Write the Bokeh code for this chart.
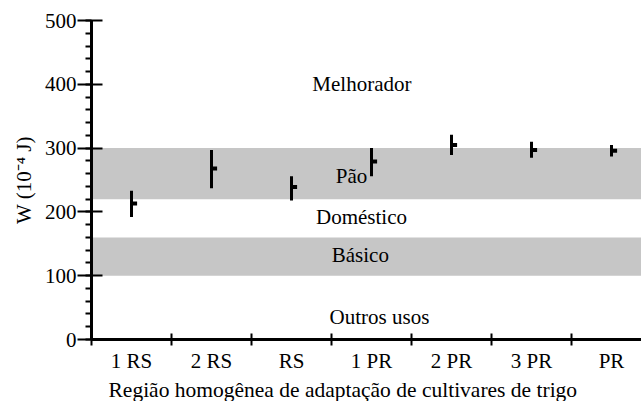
from bokeh.plotting import figure
from bokeh.models import Range1d, FixedTicker, BoxAnnotation, Label, ColumnDataSource, Title
from bokeh.embed import file_html
from bokeh.resources import INLINE

# ---- data ----
regions = ["1 RS", "2 RS", "RS", "1 PR", "2 PR", "3 PR", "PR"]
w_min = [192, 237, 218, 256, 289, 285, 287]
w_max = [233, 297, 256, 300, 321, 310, 305]
w_mean = [213, 268, 239, 279, 305, 297, 296]

class_names = ["Melhorador", "Pão", "Doméstico", "Básico", "Outros usos"]
class_low = [300, 220, 160, 100, 0]
class_high = [500, 300, 220, 160, 100]
class_shaded = [False, True, False, True, False]
class_label_x = [3.38, 3.25, 3.375, 3.36, 3.6]
class_label_y = [401, 257, 192, 132, 35]

y_ticks = [0, 100, 200, 300, 400, 500]
y_minor = list(range(0, 501, 20))

FONT = "Liberation Serif"
FS = "21px"

p = figure(width=641, height=401, output_backend="svg", toolbar_location=None,
           x_range=Range1d(0, 6.875), y_range=Range1d(0, 500),
           min_border_left=91, min_border_right=0, min_border_top=20, min_border_bottom=62)
p.outline_line_color = None
p.xgrid.grid_line_color = None
p.ygrid.grid_line_color = None
p.background_fill_color = "white"

# shaded class bands
for lo, hi, sh in zip(class_low, class_high, class_shaded):
    if sh:
        p.add_layout(BoxAnnotation(bottom=lo, top=hi, fill_color="#c6c6c6", fill_alpha=1.0,
                                   line_color=None, level="underlay"))

# class labels
for name, lx, ly in zip(class_names, class_label_x, class_label_y):
    p.add_layout(Label(x=lx, y=ly, text=name, text_font=FONT, text_font_size=FS,
                       text_align="center", text_baseline="middle", text_color="black"))

xc = [i + 0.5 for i in range(len(regions))]
src = ColumnDataSource(dict(x=xc, xt=[v + 0.07 for v in xc], lo=w_min, hi=w_max, m=w_mean))
p.segment(x0="x", x1="x", y0="lo", y1="hi", source=src, line_color="black", line_width=3, line_cap="butt")
p.segment(x0="x", x1="xt", y0="m", y1="m", source=src, line_color="black", line_width=4, line_cap="butt")

# x axis
xa = p.xaxis[0]
xa.ticker = FixedTicker(ticks=xc, minor_ticks=list(range(len(regions) + 1)))
xa.major_label_overrides = {v: r for v, r in zip(xc, regions)}
xa.major_tick_line_color = None
xa.major_tick_out = 0
xa.major_tick_in = 0
xa.minor_tick_line_color = "black"
xa.minor_tick_line_width = 2
xa.minor_tick_in = 6
xa.minor_tick_out = 6
xa.axis_line_width = 3
xa.axis_line_color = "black"
xa.major_label_standoff = 3
xa.major_label_text_font = FONT
xa.major_label_text_font_size = FS
xa.major_label_text_color = "black"

# y axis
ya = p.yaxis[0]
ya.ticker = FixedTicker(ticks=y_ticks, minor_ticks=y_minor)
ya.major_tick_in = 11
ya.major_tick_out = 14
ya.major_tick_line_width = 2
ya.major_tick_line_color = "black"
ya.minor_tick_in = 0
ya.minor_tick_out = 6
ya.minor_tick_line_width = 2
ya.minor_tick_line_color = "black"
ya.axis_line_width = 3
ya.axis_line_color = "black"
ya.major_label_standoff = 1
ya.major_label_text_font = FONT
ya.major_label_text_font_size = FS
ya.major_label_text_color = "black"
ya.axis_label = "W (10⁻⁴ J)"
ya.axis_label_text_font = FONT
ya.axis_label_text_font_size = FS
ya.axis_label_text_font_style = "normal"
ya.axis_label_text_color = "black"
ya.axis_label_standoff = 6

# x axis title
p.add_layout(Title(text="Região homogênea de adaptação de cultivares de trigo",
                   text_font=FONT, text_font_size="21.5px", text_font_style="normal",
                   text_color="black", align="left", offset=17, standoff=0), "below")

open("out.html", "w").write(file_html(p, INLINE))
